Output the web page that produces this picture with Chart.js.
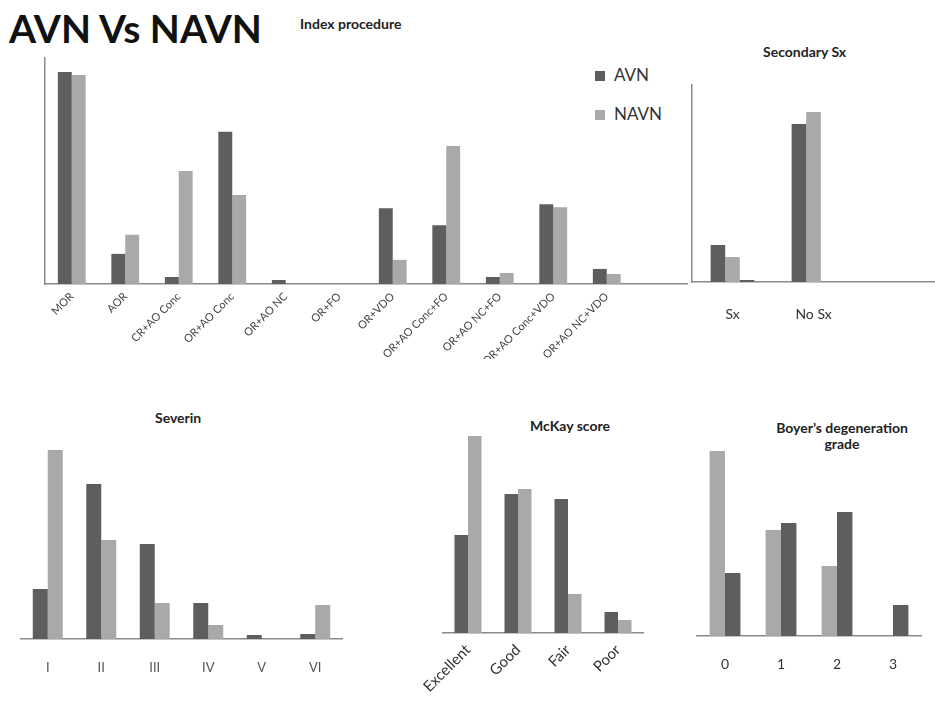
<!DOCTYPE html>
<html lang="en">
  <head>
    <meta charset="UTF-8" />
    <title>AVN Vs NAVN</title>
    <script src="https://cdn.jsdelivr.net/npm/chart.js"></script>
    <style>
      body {
        margin: 0;
        width: 935px;
        height: 706px;
        background: #fff;
        position: relative;
        overflow: hidden;
        font-family: Lato, "Open Sans", sans-serif;
        color: #222;
      }
      .box {
        position: absolute;
      }
      .title {
        position: absolute;
        font-weight: bold;
        font-size: 14px;
        color: #222;
        white-space: nowrap;
        text-align: center;
        line-height: 16px;
      }
      .legend {
        position: absolute;
        left: 595px;
        font-size: 17px;
        color: #333;
      }
      .legend span {
        display: inline-block;
        width: 10px;
        height: 10px;
        margin-right: 9px;
      }
    </style>
  </head>
  <body>
    <div class="title" style="left: 9px; top: 3px; font-size: 39px; line-height: 50px; color: #111">AVN Vs NAVN</div>
    <div class="title" style="left: 300px; top: 16px">Index procedure</div>
    <div class="title" style="left: 763px; top: 44px">Secondary Sx</div>
    <div class="title" style="left: 155px; top: 410px">Severin</div>
    <div class="title" style="left: 530px; top: 418px">McKay score</div>
    <div class="title" style="left: 752px; top: 420px; width: 180px">Boyer’s degeneration<br />grade</div>

    <div class="legend" style="top: 64px"><span style="background: #5e5e5e"></span>AVN</div>
    <div class="legend" style="top: 103px"><span style="background: #a9a9a9"></span>NAVN</div>

    <div class="box" style="left: 5px; top: 48px"><canvas id="index" width="692" height="311"></canvas></div>
    <div class="box" style="left: 652px; top: 75px"><canvas id="secondary" width="283" height="252"></canvas></div>
    <div class="box" style="left: 1px; top: 430px"><canvas id="severin" width="361" height="264"></canvas></div>
    <div class="box" style="left: 403px; top: 423px"><canvas id="mckay" width="260" height="280"></canvas></div>
    <div class="box" style="left: 667px; top: 426px"><canvas id="boyer" width="264" height="265"></canvas></div>

    <script>
      // colours
      const AVN_COLOR = "#5e5e5e";
      const NAVN_COLOR = "#a9a9a9";

      // Index procedure
      const indexLabels = [
        "MOR", "AOR", "CR+AO Conc", "OR+AO Conc", "OR+AO NC", "OR+FO",
        "OR+VDO", "OR+AO Conc+FO", "OR+AO NC+FO", "OR+AO Conc+VDO", "OR+AO NC+VDO", "",
      ];
      const indexAVN = [42.2, 6.0, 1.4, 30.3, 0.8, 0, 15.1, 11.7, 1.4, 15.9, 3.0, 0];
      const indexNAVN = [41.6, 9.8, 22.5, 17.7, 0, 0, 4.8, 27.5, 2.2, 15.3, 2.0, 0];

      // Secondary Sx
      const secLabels = ["Sx", "No Sx", ""];
      const secAVN = [7.4, 31.6, 0];
      const secNAVN = [5.0, 34.0, 0];
      const secOther = [0.4, 0, 0];

      // Severin
      const sevLabels = ["I", "II", "III", "IV", "V", "VI"];
      const sevAVN = [10.0, 31.0, 19.0, 7.2, 0.8, 1.0];
      const sevNAVN = [37.8, 19.8, 7.2, 2.8, 0, 6.8];

      // McKay score
      const mckLabels = ["Excellent", "Good", "Fair", "Poor"];
      const mckAVN = [19.6, 27.8, 26.8, 4.2];
      const mckNAVN = [39.4, 28.8, 7.8, 2.6];

      // Boyer's degeneration grade
      const boyLabels = ["0", "1", "2", "3"];
      const boyNAVN = [37.0, 21.2, 14.0, 0];
      const boyAVN = [12.6, 22.6, 24.8, 6.2];

      Chart.defaults.font.family = "Lato, 'Open Sans', sans-serif";
      Chart.defaults.animation = false;

      // one bar chart per panel
      function makeBar(id, labels, datasets, o) {
        new Chart(document.getElementById(id), {
          type: "bar",
          data: {
            labels: labels,
            datasets: datasets.map((d) => ({
              label: d.label,
              data: d.data,
              backgroundColor: d.color,
              borderWidth: 0,
              categoryPercentage: o.cat,
              barPercentage: 1,
            })),
          },
          options: {
            responsive: false,
            layout: { padding: o.pad },
            plugins: { legend: { display: false }, tooltip: { enabled: false } },
            scales: {
              x: {
                grid: { display: false, drawTicks: false },
                border: { display: true, color: "#8a8a8a", width: 1.5 },
                ticks: {
                  color: o.tickColor,
                  font: { size: o.tickSize },
                  padding: o.tickPad,
                  autoSkip: false,
                  minRotation: o.rot,
                  maxRotation: o.rot,
                },
                afterFit: (s) => { s.height = o.xh; },
              },
              y: {
                min: 0,
                max: o.max,
                grid: { display: false, drawTicks: false },
                border: { display: o.yLine, color: "#8a8a8a", width: 1.5 },
                ticks: { display: false },
                afterFit: (s) => { s.width = 0; },
              },
            },
          },
        });
      }

      makeBar("index", indexLabels, [
        { label: "AVN", data: indexAVN, color: AVN_COLOR },
        { label: "NAVN", data: indexNAVN, color: NAVN_COLOR },
      ], { cat: 0.52, pad: { left: 40, right: 10, top: 10 }, xh: 75, max: 45, yLine: true,
           rot: 45, tickSize: 11, tickColor: "#444", tickPad: 6 });

      makeBar("secondary", secLabels, [
        { label: "AVN", data: secAVN, color: AVN_COLOR },
        { label: "NAVN", data: secNAVN, color: NAVN_COLOR },
        { label: "", data: secOther, color: AVN_COLOR },
      ], { cat: 0.54, pad: { left: 40, right: 0, top: 10 }, xh: 45, max: 39.4, yLine: true,
           rot: 0, tickSize: 14, tickColor: "#333", tickPad: 24 });

      makeBar("severin", sevLabels, [
        { label: "AVN", data: sevAVN, color: AVN_COLOR },
        { label: "NAVN", data: sevNAVN, color: NAVN_COLOR },
      ], { cat: 0.56, pad: { left: 20, right: 20, top: 10 }, xh: 55, max: 39.8, yLine: false,
           rot: 0, tickSize: 13, tickColor: "#555", tickPad: 21 });

      makeBar("mckay", mckLabels, [
        { label: "AVN", data: mckAVN, color: AVN_COLOR },
        { label: "NAVN", data: mckNAVN, color: NAVN_COLOR },
      ], { cat: 0.54, pad: { left: 40, right: 20, top: 10 }, xh: 70, max: 40, yLine: false,
           rot: 45, tickSize: 15, tickColor: "#333", tickPad: 8 });

      makeBar("boyer", boyLabels, [
        { label: "NAVN", data: boyNAVN, color: NAVN_COLOR },
        { label: "AVN", data: boyAVN, color: AVN_COLOR },
      ], { cat: 0.55, pad: { left: 30, right: 10, top: 10 }, xh: 55, max: 40, yLine: false,
           rot: 0, tickSize: 14, tickColor: "#333", tickPad: 20 });
    </script>
  </body>
</html>
